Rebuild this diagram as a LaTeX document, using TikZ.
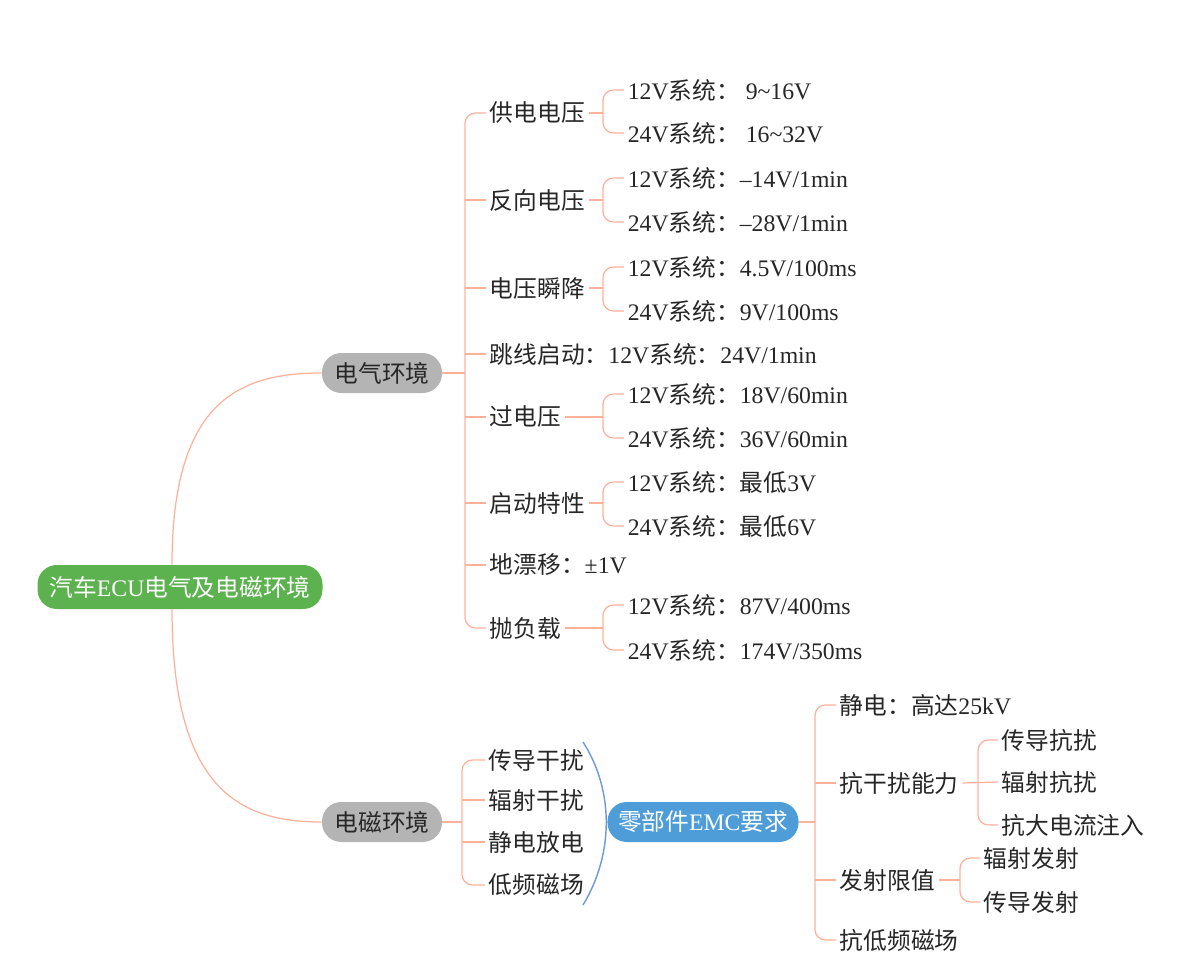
\documentclass[tikz,border=0pt]{standalone}
\usepackage{fontspec}
\usetikzlibrary{calc}
\setmainfont{Liberation Serif}
\newfontfamily\cjk{Noto Sans CJK SC}
\newcommand{\C}[1]{{\cjk #1}}
\begin{document}
\begin{tikzpicture}[x=0.02cm,y=-0.02cm,
  every node/.style={font=\fontsize{13.5}{16}\selectfont,inner sep=2pt,anchor=west,text=black!85},
  br/.style={draw=orange!45!red!40!white,line width=0.7pt,rounded corners=6},
  bl/.style={draw=cyan!50!blue!60!white,line width=0.8pt},
  box/.style={anchor=center,rounded corners=11,minimum height=40*0.02cm,inner xsep=6pt},
]
\useasboundingbox (0,0) rectangle (1190,956);
\definecolor{gr}{HTML}{5BB24E}\definecolor{gy}{HTML}{B4B4B4}\definecolor{bu}{HTML}{4E9DD8}
\node[box,fill=gr,text=white,minimum width=285*0.02cm,minimum height=44*0.02cm] (root) at (180,587) {\C{汽车}ECU\C{电气及电磁环境}};
\node[box,fill=gy,minimum width=120*0.02cm] (e1) at (382,373) {\C{电气环境}};
\node[box,fill=gy,minimum width=120*0.02cm] (e2) at (382,822) {\C{电磁环境}};
\draw[br,rounded corners=0] ($(root.north)+(-8,0)$) .. controls (172,400) and (240,373) .. (e1.west);
\draw[br,rounded corners=0] ($(root.south)+(-8,0)$) .. controls (172,790) and (240,822) .. (e2.west);
% electric children
\node (a1) at (486,113) {\C{供电电压}};
\node (a2) at (486,200) {\C{反向电压}};
\node (a3) at (486,288) {\C{电压瞬降}};
\node (a4) at (486,354) {\C{跳线启动：}12V\C{系统：}24V/1min};
\node (a5) at (486,417) {\C{过电压}};
\node (a6) at (486,503) {\C{启动特性}};
\node (a7) at (486,565) {\C{地漂移：}±1V};
\node (a8) at (486,628) {\C{抛负载}};
\coordinate (ab) at (465,373);
\draw[br] (a1.west) -| (ab) |- (a8.west);
\draw[br] (e1.east) -- (ab);
\foreach \n in {a2,a3,a4,a5,a6,a7} \draw[br] (ab |- \n.west) -- (\n.west);
% leaves
\newcommand{\grp}[6]{%
 \node (#1u) at (624,#3) {12V\C{系统：}#5};
 \node (#1d) at (624,#4) {24V\C{系统：}#6};
 \coordinate (#1b) at (603,#2);
 \draw[br] (#1u.west) -| (#1b) |- (#1d.west);
 \draw[br] (#1.east) -- (#1b);}
\grp{a1}{113}{90}{133}{\ 9\textasciitilde16V}{\ 16\textasciitilde32V}
\grp{a2}{200}{178}{222}{–14V/1min}{–28V/1min}
\grp{a3}{288}{267}{311}{4.5V/100ms}{9V/100ms}
\grp{a5}{417}{394}{438}{18V/60min}{36V/60min}
\grp{a6}{503}{482}{526}{\C{最低}3V}{\C{最低}6V}
\grp{a8}{628}{605}{650}{87V/400ms}{174V/350ms}
% EM children
\node (b1) at (485,760) {\C{传导干扰}};
\node (b2) at (485,800) {\C{辐射干扰}};
\node (b3) at (485,842) {\C{静电放电}};
\node (b4) at (485,885) {\C{低频磁场}};
\coordinate (bb) at (462,822);
\draw[br] (b1.west) -| (bb) |- (b4.west);
\draw[br] (e2.east) -- (bb);
\foreach \n in {b2,b3} \draw[br] (bb |- \n.west) -- (\n.west);
\coordinate (arcT) at (583,742); \coordinate (arcB) at (583,905); \coordinate (arcM) at (606,822);
\draw[bl] (arcT) .. controls (614,790) and (614,854) .. (arcB);
\node[box,fill=bu,text=white,minimum width=183*0.02cm] (emc) at (703,822) {\C{零部件}EMC\C{要求}};
\draw[bl] (arcM) -- (emc.west);
\node (c1) at (836,705) {\C{静电：高达}25kV};
\node (c2) at (836,783) {\C{抗干扰能力}};
\node (c3) at (836,880) {\C{发射限值}};
\node (c4) at (836,940) {\C{抗低频磁场}};
\coordinate (cb) at (815,822);
\draw[br] (c1.west) -| (cb) |- (c4.west);
\draw[br] (emc.east) -- (cb);
\foreach \n in {c2,c3} \draw[br] (cb |- \n.west) -- (\n.west);
\node (d1) at (998,740) {\C{传导抗扰}};
\node (d2) at (998,782) {\C{辐射抗扰}};
\node (d3) at (998,825) {\C{抗大电流注入}};
\coordinate (db) at (978,783);
\draw[br] (d1.west) -| (db) |- (d3.west);
\draw[br] (c2.east) -- (d2.west);
\node (f1) at (980,858) {\C{辐射发射}};
\node (f2) at (980,902) {\C{传导发射}};
\coordinate (fb) at (960,880);
\draw[br] (f1.west) -| (fb) |- (f2.west);
\draw[br] (c3.east) -- (fb);
\end{tikzpicture}
\end{document}
